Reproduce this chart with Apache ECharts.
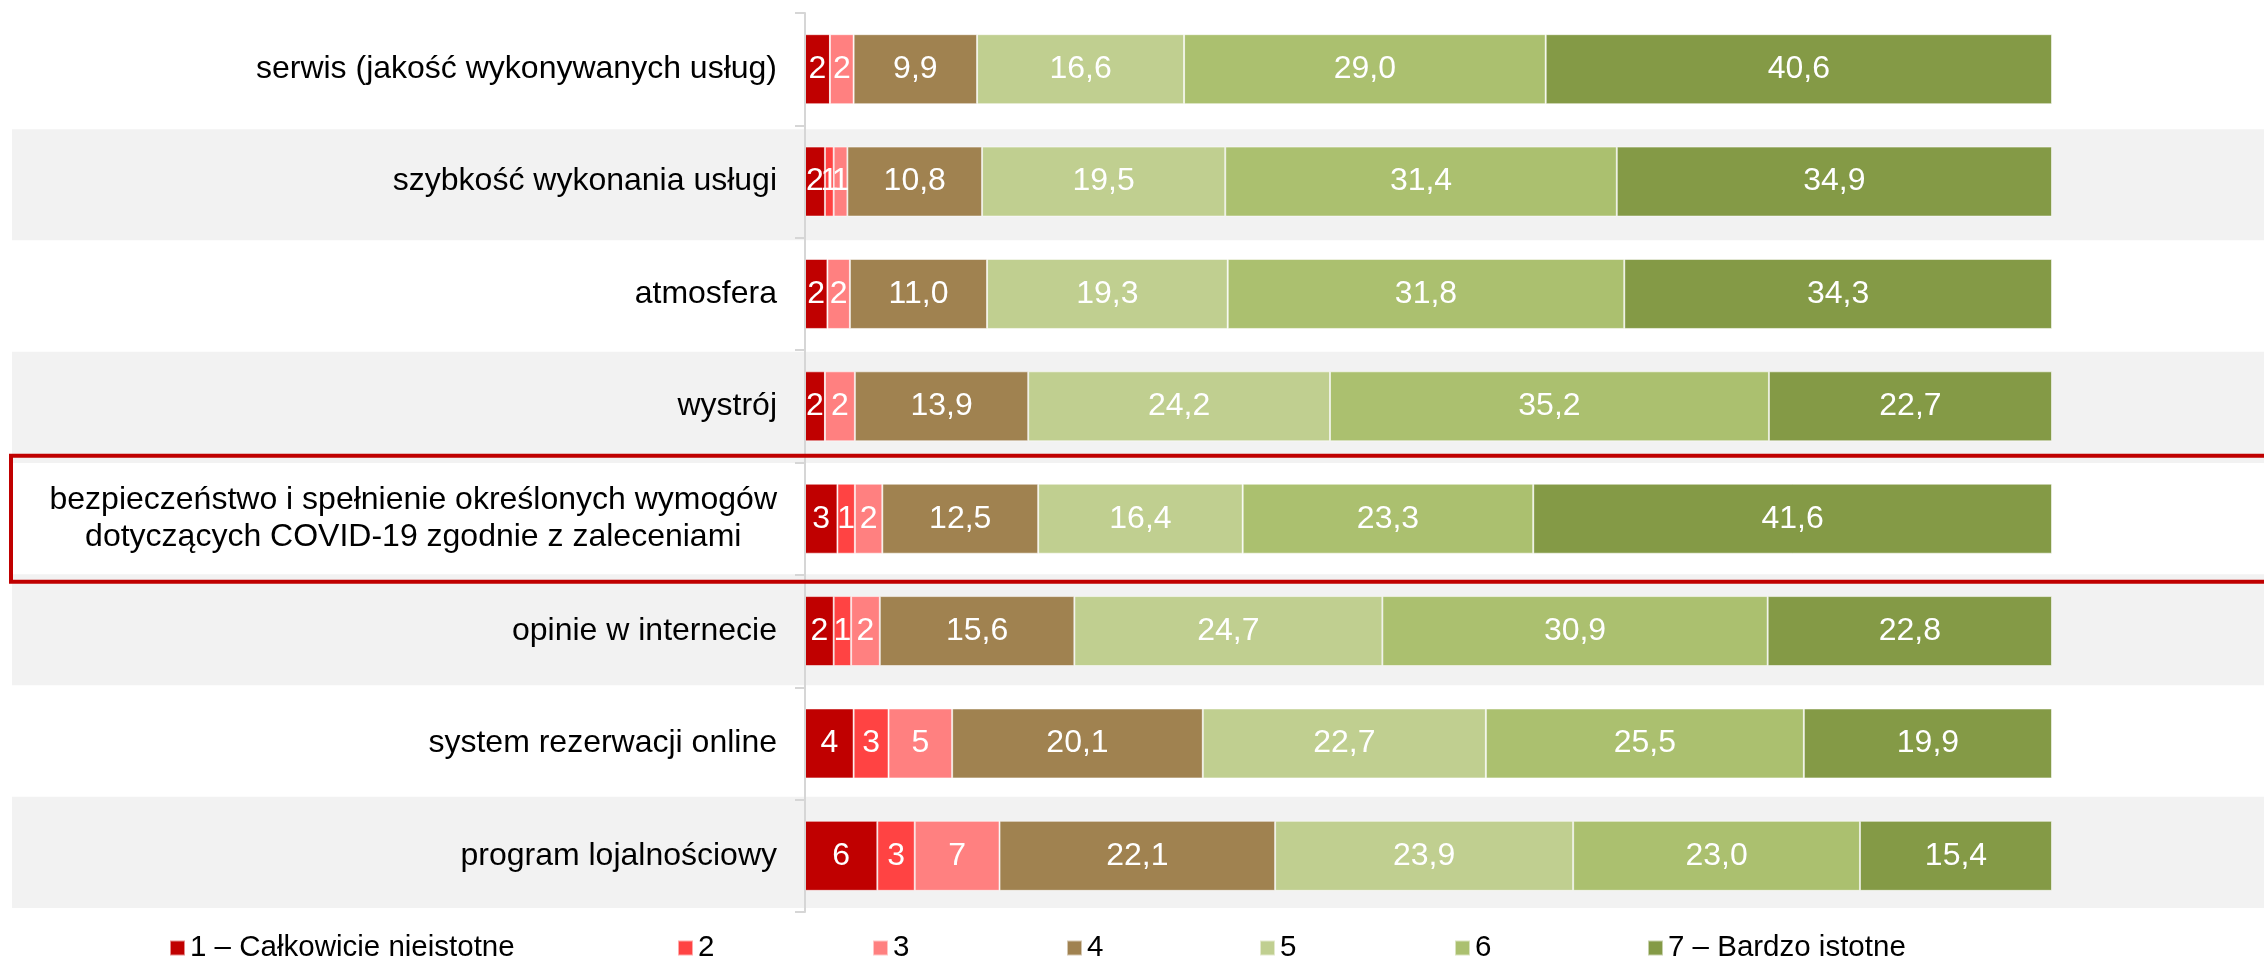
<!DOCTYPE html>
<html>
<head>
<meta charset="utf-8">
<script src="https://cdn.jsdelivr.net/npm/echarts@6/dist/echarts.min.js"></script>
<style>
html,body{margin:0;padding:0;background:#fff;}
#chart{width:2264px;height:959px;}
</style>
</head>
<body>
<div id="chart"></div>
<script>
const categories = [
  'serwis (jakość wykonywanych usług)',
  'szybkość wykonania usługi',
  'atmosfera',
  'wystrój',
  'bezpieczeństwo i spełnienie określonych wymogów\ndotyczących COVID-19 zgodnie z zaleceniami',
  'opinie w internecie',
  'system rezerwacji online',
  'program lojalnościowy'
];
const seriesNames = ['1 – Całkowicie nieistotne', '2', '3', '4', '5', '6', '7 – Bardzo istotne'];
const s1 = [2.0, 1.6, 1.8, 1.6, 2.6, 2.3, 3.9, 5.8];
const s2 = [0, 0.7, 0, 0, 1.4, 1.4, 2.8, 3.0];
const s3 = [1.9, 1.1, 1.8, 2.4, 2.2, 2.3, 5.1, 6.8];
const s4 = [9.9, 10.8, 11.0, 13.9, 12.5, 15.6, 20.1, 22.1];
const s5 = [16.6, 19.5, 19.3, 24.2, 16.4, 24.7, 22.7, 23.9];
const s6 = [29.0, 31.4, 31.8, 35.2, 23.3, 30.9, 25.5, 23.0];
const s7 = [40.6, 34.9, 34.3, 22.7, 41.6, 22.8, 19.9, 15.4];
const allSeries = [s1, s2, s3, s4, s5, s6, s7];
const colors = ['#c00000', '#ff4343', '#ff8080', '#a08250', '#c0cf90', '#abc06f', '#849a46'];
const legendLefts = [169, 677, 872, 1066, 1259, 1454, 1647];

const FONT = '"Liberation Sans", Arial, sans-serif';
const chart = echarts.init(document.getElementById('chart'), null, {renderer: 'canvas'});

const series = allSeries.map((arr, i) => ({
  name: seriesNames[i],
  type: 'bar',
  stack: 'total',
  xAxisIndex: 0,
  yAxisIndex: 0,
  barWidth: 70,
  data: arr,
  itemStyle: {color: colors[i], borderColor: 'rgba(255,255,255,0.55)', borderWidth: 1},
  label: {
    show: true,
    position: 'inside',
    color: '#ffffff',
    fontSize: 32,
    fontFamily: FONT,
    formatter: p => {
      if (!p.value) return '';
      return i < 3 ? String(Math.round(p.value)) : p.value.toFixed(1).replace('.', ',');
    }
  },
  emphasis: {disabled: true},
  animation: false
}));

const legends = seriesNames.map((n, i) => ({
  data: [n],
  left: legendLefts[i],
  top: 933,
  padding: 0,
  itemWidth: 15,
  itemHeight: 15,
  icon: 'rect',
  selectedMode: false,
  textStyle: {fontSize: 29.5, color: '#000', fontFamily: FONT}
}));

const option = {
  animation: false,
  backgroundColor: '#fff',
  color: colors,
  legend: legends,
  grid: [
    {left: 805, right: 212, top: 13, bottom: 47, containLabel: false},
    {left: 12, right: 0, top: 18, bottom: 51, containLabel: false}
  ],
  xAxis: [
    {type: 'value', gridIndex: 0, min: 0, max: 100, show: false},
    {type: 'value', gridIndex: 1, min: 0, max: 1, show: false}
  ],
  yAxis: [
    {
      type: 'category', gridIndex: 0, inverse: true, data: categories, z: 3,
      axisLine: {show: true, lineStyle: {color: '#d6d6d6', width: 2}},
      axisTick: {show: true, length: 10, lineStyle: {color: '#d6d6d6', width: 2}},
      splitLine: {show: false},
      axisLabel: {
        margin: 28,
        color: '#000',
        fontSize: 32,
        fontFamily: FONT,
        formatter: v => v.split('\n').map(l => '{c|' + l + '}').join('\n'),
        rich: {c: {fontSize: 32, fontFamily: FONT, color: '#000', align: 'center', lineHeight: 37}}
      }
    },
    {
      type: 'category', gridIndex: 1, inverse: true, data: categories, z: 0,
      axisLine: {show: false}, axisTick: {show: false}, axisLabel: {show: false},
      splitLine: {show: false},
      splitArea: {show: true, areaStyle: {color: ['#ffffff', '#f2f2f2']}}
    }
  ],
  series: series
};
chart.setOption(option);

// highlight box around the COVID row (annotation)
const cy = chart.convertToPixel({yAxisIndex: 0}, categories[4]);
chart.setOption({
  graphic: [{
    type: 'rect',
    z: 10,
    shape: {x: 11, y: cy - 63, width: 2300, height: 126},
    style: {fill: 'none', stroke: '#c00000', lineWidth: 4}
  }]
});
</script>
</body>
</html>
